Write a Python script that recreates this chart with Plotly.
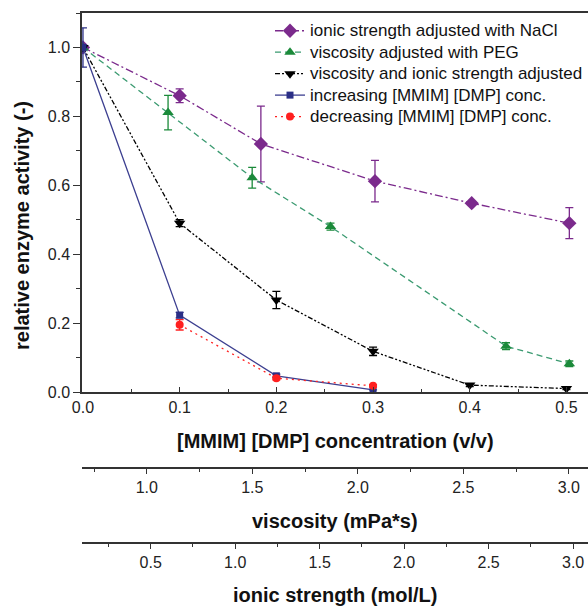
import plotly.graph_objects as go

# ---- data ----
nacl_x = [0.0, 0.1, 0.184, 0.302, 0.402, 0.503]
nacl_y = [1.0, 0.86, 0.72, 0.612, 0.548, 0.49]
nacl_err = [0.0, 0.02, 0.11, 0.06, 0.004, 0.045]

peg_x = [0.0, 0.088, 0.175, 0.256, 0.4375, 0.503]
peg_y = [1.0, 0.811, 0.622, 0.48, 0.133, 0.082]
peg_err = [0.0, 0.05, 0.03, 0.01, 0.01, 0.008]

both_x = [0.0, 0.1, 0.2, 0.3, 0.4, 0.5]
both_y = [1.0, 0.49, 0.267, 0.118, 0.02, 0.01]
both_err = [0.0, 0.01, 0.025, 0.012, 0.004, 0.003]

inc_x = [0.0, 0.1, 0.2, 0.3]
inc_y = [1.0, 0.223, 0.047, 0.006]
inc_err = [0.057, 0.008, 0.005, 0.0]

dec_x = [0.1, 0.2, 0.3]
dec_y = [0.195, 0.04, 0.018]
dec_err = [0.015, 0.005, 0.003]

series_names = [
    "ionic strength adjusted with NaCl",
    "viscosity adjusted with PEG",
    "viscosity and ionic strength adjusted",
    "increasing [MMIM] [DMP] conc.",
    "decreasing [MMIM] [DMP] conc.",
]

conc_ticks = [0.0, 0.1, 0.2, 0.3, 0.4, 0.5]
act_ticks = [0.0, 0.2, 0.4, 0.6, 0.8, 1.0]
visc_ticks = [1.0, 1.5, 2.0, 2.5, 3.0]
visc_minor = [0.75, 1.25, 1.75, 2.25, 2.75]
ionic_ticks = [0.5, 1.0, 1.5, 2.0, 2.5, 3.0]
ionic_minor = [0.25, 0.75, 1.25, 1.75, 2.25, 2.75]

FONT = "Liberation Sans, Arial, sans-serif"
AX = "#333333"

W, H = 588, 606
L, T = 82, 13
plot_h = H - T


def py(pix):
    return (H - pix) / plot_h


fig = go.Figure()


def add(x, y, err, name, color, dash, symbol, size, lcolor=None, width=1.3):
    fig.add_trace(go.Scatter(
        x=x, y=y, name=f'<span style="font-size:17px">{name}</span>',
        mode="lines+markers",
        line=dict(color=lcolor or color, dash=dash, width=width),
        marker=dict(color=color, symbol=symbol, size=size),
        error_y=dict(type="data", array=err, visible=True, color=color,
                     thickness=1.3, width=4),
    ))


add(nacl_x, nacl_y, nacl_err, series_names[0], "#7b2a8c",
    "8px,3px,2px,3px", "diamond", 11)
add(peg_x, peg_y, peg_err, series_names[1], "#1b8a3a",
    "6px,4px", "triangle-up", 10, lcolor="#3a9a70")
add(both_x, both_y, both_err, series_names[2], "#000000",
    "5px,2px,2px,2px,2px,2px", "triangle-down", 10)
add(inc_x, inc_y, inc_err, series_names[3], "#2b2f86",
    "solid", "square", 7, lcolor="#3c3f90")
add(dec_x, dec_y, dec_err, series_names[4], "#ff2020",
    "2px,4px", "circle", 8)

# invisible carriers so the secondary scales get drawn
fig.add_trace(go.Scatter(x=visc_ticks, y=[None] * len(visc_ticks), xaxis="x2",
                         yaxis="y", mode="markers", showlegend=False,
                         hoverinfo="skip", marker=dict(opacity=0)))
fig.add_trace(go.Scatter(x=ionic_ticks, y=[None] * len(ionic_ticks), xaxis="x3",
                         yaxis="y", mode="markers", showlegend=False,
                         hoverinfo="skip", marker=dict(opacity=0)))

tickfont = dict(family=FONT, size=16, color="#222222")

common = dict(showgrid=False, zeroline=False, tickfont=tickfont,
              tickcolor=AX, tickwidth=1.3, showline=True, linewidth=1.5,
              linecolor=AX, automargin=False)

fig.update_layout(
    template="none",
    width=W, height=H,
    margin=dict(l=L, r=0, t=T, b=0, pad=0, autoexpand=False),
    paper_bgcolor="white", plot_bgcolor="white",
    font=dict(family=FONT, size=16, color="#111111"),
    showlegend=True,
    legend=dict(
        x=(270 - L) / (W - L), y=py(15), xanchor="left", yanchor="top",
        bgcolor="rgba(255,255,255,0)", borderwidth=0,
        font=dict(family=FONT, size=14.2, color="#111111"),
        tracegroupgap=0,
    ),
    xaxis=dict(
        range=[-0.001, 0.5223], tickvals=conc_ticks,
        ticktext=[f"{v:.1f}" for v in conc_ticks],
        ticks="inside", ticklen=5, mirror=True,
        minor=dict(dtick=0.05, ticks="inside", ticklen=3, tickwidth=1.2,
                   tickcolor=AX, showgrid=False),
        anchor="y", **common,
    ),
    yaxis=dict(
        domain=[py(392), 1], range=[0, 1.1], tickvals=act_ticks,
        ticktext=[f"{v:.1f}" for v in act_ticks],
        ticks="outside", ticklen=7,
        minor=dict(dtick=0.1, ticks="outside", ticklen=4, tickwidth=1.2,
                   tickcolor=AX, showgrid=False),
        **common,
    ),
    xaxis2=dict(
        overlaying="x", anchor="free", position=py(468), side="bottom",
        range=[0.693, 3.091], tickvals=visc_ticks,
        ticktext=[f"{v:.1f}" for v in visc_ticks],
        ticks="outside", ticklen=5,
        minor=dict(tickvals=visc_minor, ticks="outside", ticklen=3,
                   tickwidth=1.2, tickcolor=AX, showgrid=False),
        **common,
    ),
    xaxis3=dict(
        overlaying="x", anchor="free", position=py(543), side="bottom",
        range=[0.0935, 3.088], tickvals=ionic_ticks,
        ticktext=[f"{v:.1f}" for v in ionic_ticks],
        ticks="outside", ticklen=5,
        minor=dict(tickvals=ionic_minor, ticks="outside", ticklen=3,
                   tickwidth=1.2, tickcolor=AX, showgrid=False),
        **common,
    ),
)

title_font = dict(family=FONT, size=20, color="#111111")
cx = 0.5
annots = [
    dict(text="<b>[MMIM] [DMP] concentration (v/v)</b>", x=cx, y=py(441)),
    dict(text="<b>viscosity (mPa*s)</b>", x=cx, y=py(521)),
    dict(text="<b>ionic strength (mol/L)</b>", x=cx, y=py(595)),
]
for a in annots:
    fig.add_annotation(xref="paper", yref="paper", showarrow=False,
                       xanchor="center", yanchor="middle", font=title_font, **a)
fig.add_annotation(text="<b>relative enzyme activity (-)</b>", xref="paper",
                   yref="paper", x=(22 - L) / (W - L), y=py(226), showarrow=False,
                   textangle=-90, xanchor="center", yanchor="middle",
                   font=title_font)

fig.write_html(
    "out.html",
    config={"displayModeBar": False},
    post_script="document.body.style.margin='0';document.body.style.padding='0';"
                "document.body.style.overflow='hidden';",
)
